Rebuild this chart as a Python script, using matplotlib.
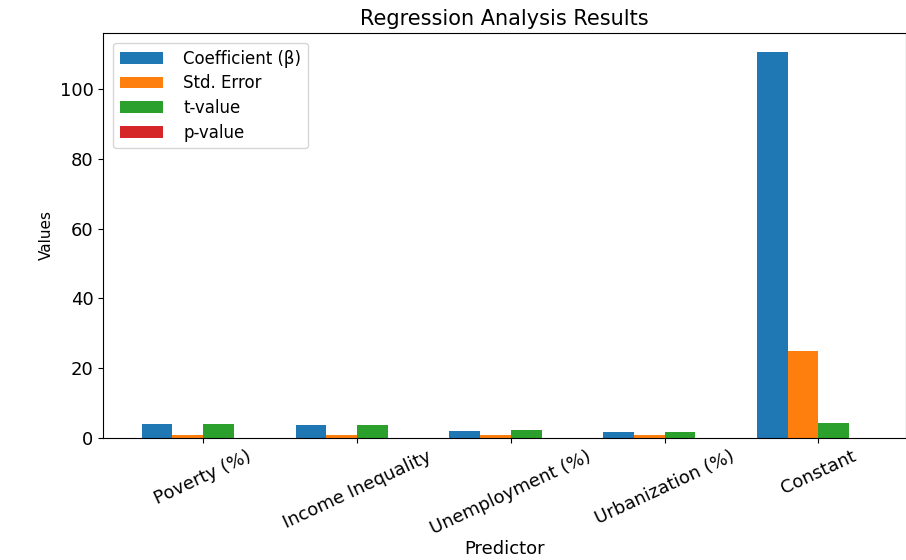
import numpy as np
import matplotlib
matplotlib.use('Agg')
import matplotlib.pyplot as plt

# regression table
predictors = ['Poverty (%)', 'Income Inequality', 'Unemployment (%)', 'Urbanization (%)', 'Constant']
coef = [3.9, 3.65, 2.0, 1.7, 110.6]
std_err = [0.85, 0.85, 0.85, 0.85, 25.0]
t_value = [3.9, 3.65, 2.3, 1.7, 4.2]
p_value = [0.0, 0.0, 0.0, 0.0, 0.0]

series = [('Coefficient (β)', coef), ('Std. Error', std_err),
          ('t-value', t_value), ('p-value', p_value)]

fig = plt.figure(figsize=(9.06, 5.6), dpi=100)
ax = fig.add_axes([0.114, 0.218, 0.886, 0.723])

x = np.arange(len(predictors))
w = 0.2
for i, (name, vals) in enumerate(series):
    ax.bar(x + (i - 1.5) * w, vals, w, label=name, color='C%d' % i)

ax.set_xticks(x)
ax.set_xticklabels(predictors, rotation=25, fontsize=13)
ax.tick_params(axis='y', labelsize=13)
ax.set_xlim(-0.65, 4.57)
ax.set_title('Regression Analysis Results', fontsize=15)
ax.set_xlabel('Predictor', fontsize=13)
ax.xaxis.set_label_coords(0.5, -0.252)
ax.set_ylabel('Values', fontsize=11)
ax.legend(loc='upper left', fontsize=12, labelspacing=0.4, handlelength=2.6,
          handletextpad=1.2, borderaxespad=0.6)

fig.savefig('out.png', dpi=100)
